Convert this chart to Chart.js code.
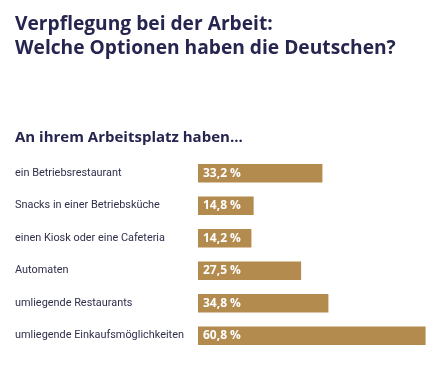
<!DOCTYPE html>
<html>
<head>
<meta charset="utf-8">
<script src="https://cdn.jsdelivr.net/npm/chart.js@4"></script>
<style>
html,body{margin:0;padding:0;background:#fff;}
#wrap{width:440px;height:365px;position:relative;}
</style>
</head>
<body>
<div id="wrap"><canvas id="c" width="440" height="365"></canvas></div>
<script>
const titleLines = ["Verpflegung bei der Arbeit:", "Welche Optionen haben die Deutschen?"];
const subtitleText = "An ihrem Arbeitsplatz haben...";
const categories = ["ein Betriebsrestaurant", "Snacks in einer Betriebsküche", "einen Kiosk oder eine Cafeteria", "Automaten", "umliegende Restaurants", "umliegende Einkaufsmöglichkeiten"];
const values = [33.2, 14.8, 14.2, 27.5, 34.8, 60.8];
const valueLabels = ["33,2 %", "14,8 %", "14,2 %", "27,5 %", "34,8 %", "60,8 %"];

const NAVY = "#25254f";
const TEXT = "#2f2f4c";
const GOLD = "#b38b4e";
const HEAD_FONT = "'Open Sans', Lato, sans-serif";
const FONT = "Roboto, Lato, sans-serif";

const valuePlugin = {
  id: "valueLabels",
  afterDatasetsDraw(chart) {
    const ctx = chart.ctx;
    const meta = chart.getDatasetMeta(0);
    ctx.save();
    ctx.font = "bold 12px " + HEAD_FONT;
    ctx.fillStyle = "#ffffff";
    ctx.textAlign = "left";
    ctx.textBaseline = "middle";
    meta.data.forEach((bar, i) => {
      ctx.fillText(valueLabels[i], bar.base + 5, bar.y);
    });
    ctx.restore();
  }
};

new Chart(document.getElementById("c"), {
  type: "bar",
  data: {
    labels: categories,
    datasets: [{
      data: values,
      backgroundColor: GOLD,
      borderWidth: 0,
      barThickness: 18
    }]
  },
  options: {
    indexAxis: "y",
    responsive: false,
    animation: false,
    layout: { padding: { left: 15, right: 14, top: 0, bottom: 13 } },
    plugins: {
      legend: { display: false },
      tooltip: { enabled: false },
      title: {
        display: true,
        text: titleLines,
        align: "start",
        color: NAVY,
        font: { family: HEAD_FONT, size: 19.2, weight: "bold", lineHeight: 1.25 },
        padding: { top: 13, bottom: 0 }
      },
      subtitle: {
        display: true,
        text: subtitleText,
        align: "start",
        color: NAVY,
        font: { family: HEAD_FONT, size: 15, weight: "bold", lineHeight: 1.2 },
        padding: { top: 68, bottom: 10 }
      }
    },
    scales: {
      x: {
        display: false,
        min: 0,
        max: 61
      },
      y: {
        grid: { display: false },
        border: { display: false },
        ticks: {
          color: TEXT,
          font: { family: FONT, size: 10.9 },
          crossAlign: "far",
          padding: 0
        },
        afterFit(scale) { scale.width = 183; }
      }
    }
  },
  plugins: [valuePlugin]
});
</script>
</body>
</html>
